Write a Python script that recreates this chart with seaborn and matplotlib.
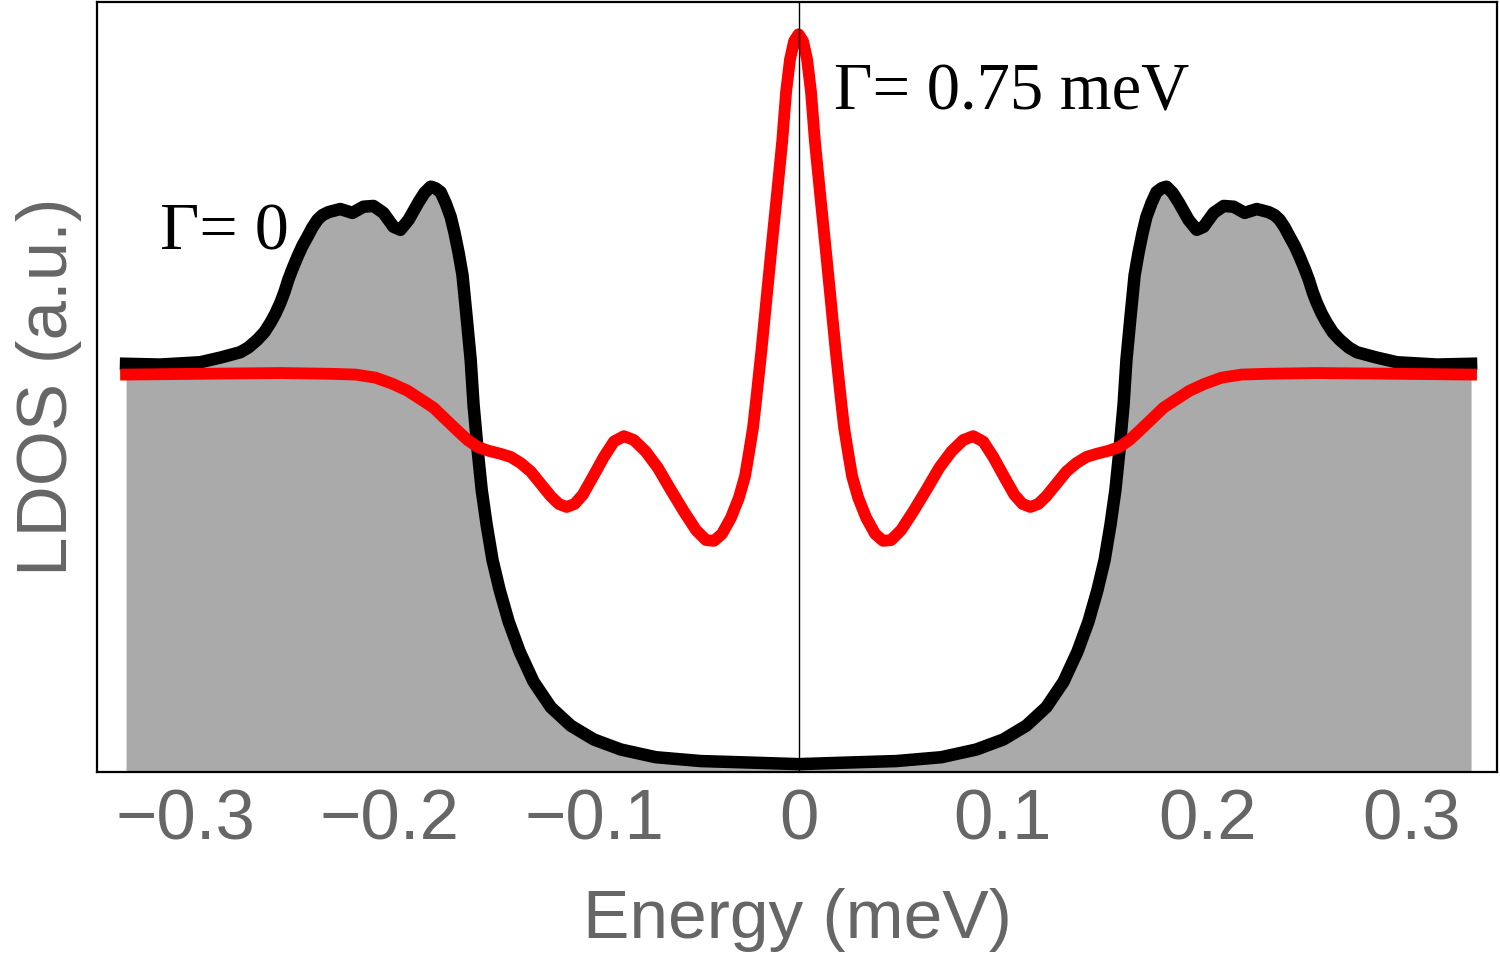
import matplotlib
matplotlib.use("Agg")
import matplotlib.pyplot as plt
import numpy as np
import pandas as pd
import seaborn as sns

# ---- data (Energy in meV, LDOS in arbitrary units) ----
black_energy = [-0.3292, -0.3125, -0.2929, -0.2831, -0.2733, -0.2694, -0.2650, -0.2615, -0.2586,
                -0.2561, -0.2537, -0.2517, -0.2498, -0.2478, -0.2453, -0.2429, -0.2404, -0.2380,
                -0.2355, -0.2331, -0.2301, -0.2243, -0.2184, -0.2130, -0.2081, -0.2032, -0.1983,
                -0.1949, -0.1909, -0.1860, -0.1831, -0.1801, -0.1777, -0.1752, -0.1728, -0.1703,
                -0.1684, -0.1664, -0.1645, -0.1625, -0.1605, -0.1591, -0.1571, -0.1551, -0.1527,
                -0.1498, -0.1463, -0.1419, -0.1365, -0.1297, -0.1213, -0.1115, -0.1002, -0.0870,
                -0.0699, -0.0478, -0.0233, 0.0,
                0.0233, 0.0478, 0.0699, 0.0870, 0.1002, 0.1115, 0.1213, 0.1297, 0.1365, 0.1419,
                0.1463, 0.1498, 0.1527, 0.1551, 0.1571, 0.1591, 0.1605, 0.1625, 0.1645, 0.1664,
                0.1684, 0.1703, 0.1728, 0.1752, 0.1777, 0.1801, 0.1831, 0.1860, 0.1909, 0.1949,
                0.1983, 0.2032, 0.2081, 0.2130, 0.2184, 0.2243, 0.2301, 0.2331, 0.2355, 0.2380,
                0.2404, 0.2429, 0.2453, 0.2478, 0.2498, 0.2517, 0.2537, 0.2561, 0.2586, 0.2615,
                0.2650, 0.2694, 0.2733, 0.2831, 0.2929, 0.3125, 0.3292]
black_ldos = [0.530, 0.529, 0.532, 0.538, 0.545, 0.551, 0.561, 0.571, 0.583,
              0.595, 0.609, 0.623, 0.639, 0.653, 0.669, 0.683, 0.695, 0.707,
              0.717, 0.723, 0.727, 0.731, 0.726, 0.734, 0.735, 0.726, 0.708,
              0.704, 0.717, 0.740, 0.752, 0.760, 0.758, 0.753, 0.739, 0.721,
              0.700, 0.674, 0.645, 0.591, 0.535, 0.477, 0.418, 0.366, 0.321,
              0.275, 0.236, 0.195, 0.156, 0.117, 0.084, 0.060, 0.042, 0.029,
              0.019, 0.014, 0.012, 0.010,
              0.012, 0.014, 0.019, 0.029, 0.042, 0.060, 0.084, 0.117, 0.156, 0.195,
              0.236, 0.275, 0.321, 0.366, 0.418, 0.477, 0.535, 0.591, 0.645, 0.674,
              0.700, 0.721, 0.739, 0.753, 0.758, 0.760, 0.752, 0.740, 0.717, 0.704,
              0.708, 0.726, 0.735, 0.734, 0.726, 0.731, 0.727, 0.723, 0.717, 0.707,
              0.695, 0.683, 0.669, 0.653, 0.639, 0.623, 0.609, 0.595, 0.583, 0.571,
              0.561, 0.551, 0.545, 0.538, 0.532, 0.529, 0.530]

red_energy = [-0.3292, -0.2929, -0.2537, -0.2292, -0.2169, -0.2071, -0.1988, -0.1914, -0.1850,
              -0.1787, -0.1728, -0.1669, -0.1620, -0.1571, -0.1517, -0.1458, -0.1409, -0.1360,
              -0.1311, -0.1262, -0.1213, -0.1174, -0.1135, -0.1096, -0.1056, -0.1007, -0.0953,
              -0.0904, -0.0855, -0.0806, -0.0748, -0.0689, -0.0625, -0.0561, -0.0502, -0.0453,
              -0.0414, -0.0375, -0.0331, -0.0292, -0.0262, -0.0243, -0.0223, -0.0208, -0.0181,
              -0.0156, -0.0131, -0.0105, -0.0080, -0.0061, -0.0042, -0.0022, 0.0,
              0.0022, 0.0042, 0.0061, 0.0080, 0.0105, 0.0131, 0.0156, 0.0181, 0.0208, 0.0223,
              0.0243, 0.0262, 0.0292, 0.0331, 0.0375, 0.0414, 0.0453, 0.0502, 0.0561, 0.0625,
              0.0689, 0.0748, 0.0806, 0.0855, 0.0904, 0.0953, 0.1007, 0.1056, 0.1096, 0.1135,
              0.1174, 0.1213, 0.1262, 0.1311, 0.1360, 0.1409, 0.1458, 0.1517, 0.1571, 0.1620,
              0.1669, 0.1728, 0.1787, 0.1850, 0.1914, 0.1988, 0.2071, 0.2169, 0.2292, 0.2537,
              0.2929, 0.3292]
red_ldos = [0.516, 0.517, 0.518, 0.517, 0.516, 0.512, 0.504, 0.495, 0.484,
            0.473, 0.458, 0.443, 0.431, 0.422, 0.417, 0.413, 0.409, 0.401,
            0.390, 0.374, 0.358, 0.348, 0.344, 0.348, 0.360, 0.383, 0.409,
            0.429, 0.436, 0.431, 0.416, 0.395, 0.366, 0.338, 0.314, 0.301,
            0.300, 0.309, 0.330, 0.356, 0.384, 0.414, 0.447, 0.482, 0.549,
            0.617, 0.684, 0.752, 0.819, 0.883, 0.925, 0.949, 0.958,
            0.949, 0.925, 0.883, 0.819, 0.752, 0.684, 0.617, 0.549, 0.482, 0.447,
            0.414, 0.384, 0.356, 0.330, 0.309, 0.300, 0.301, 0.314, 0.338, 0.366,
            0.395, 0.416, 0.431, 0.436, 0.429, 0.409, 0.383, 0.360, 0.348, 0.344,
            0.348, 0.358, 0.374, 0.390, 0.401, 0.409, 0.413, 0.417, 0.422, 0.431,
            0.443, 0.458, 0.473, 0.484, 0.495, 0.504, 0.512, 0.516, 0.517, 0.518,
            0.517, 0.516]

x_ticks = [-0.3, -0.2, -0.1, 0.0, 0.1, 0.2, 0.3]
x_tick_labels = ["\u22120.3", "\u22120.2", "\u22120.1", "0", "0.1", "0.2", "0.3"]
label_black = "\u0393= 0"
label_red = "\u0393= 0.75 meV"

# ---- styling ----
sns.set_theme(style="white")
plt.rcParams["font.family"] = ["Liberation Sans", "DejaVu Sans"]
grey_text = "#666666"

fig = plt.figure(figsize=(15, 9.6), dpi=100)
ax = fig.add_axes([0.0647, 0.196, 0.9333, 0.802])

df_black = pd.DataFrame({"Energy": black_energy, "LDOS": black_ldos})
df_red = pd.DataFrame({"Energy": red_energy, "LDOS": red_ldos})

ax.fill_between(df_black["Energy"], 0, df_black["LDOS"], color="#aaaaaa", lw=0, zorder=1)
sns.lineplot(data=df_black, x="Energy", y="LDOS", ax=ax, color="black", lw=9.0,
             sort=False, zorder=3, solid_capstyle="projecting", solid_joinstyle="round")
sns.lineplot(data=df_red, x="Energy", y="LDOS", ax=ax, color="#ff0000", lw=8.5,
             sort=False, zorder=4, solid_capstyle="projecting", solid_joinstyle="round")
ax.axvline(0, color="black", lw=1.0, zorder=5)

ax.set_xlim(-0.3434, 0.3419)
ax.set_ylim(0, 1.0)
ax.set_xticks(x_ticks)
ax.set_xticklabels(x_tick_labels)
ax.set_yticks([])
ax.tick_params(axis="x", direction="in", length=6, width=1.2, color=grey_text,
               labelcolor=grey_text, labelsize=51, pad=12, bottom=True)
for s in ax.spines.values():
    s.set_color("black")
    s.set_linewidth(1.6)
    s.set_visible(True)

ax.set_xlabel("Energy (meV)", fontsize=50, color=grey_text, labelpad=24)
ax.set_ylabel("LDOS (a.u.)", fontsize=51, color=grey_text, labelpad=11)

ax.text(0.0174, 0.860, label_red, family=["Liberation Serif", "DejaVu Serif"],
        fontsize=48, color="black", va="baseline", ha="left", zorder=6)
ax.text(-0.3125, 0.678, label_black, family=["Liberation Serif", "DejaVu Serif"],
        fontsize=49, color="black", va="baseline", ha="left", zorder=6)

fig.savefig("out.png", dpi=100)
